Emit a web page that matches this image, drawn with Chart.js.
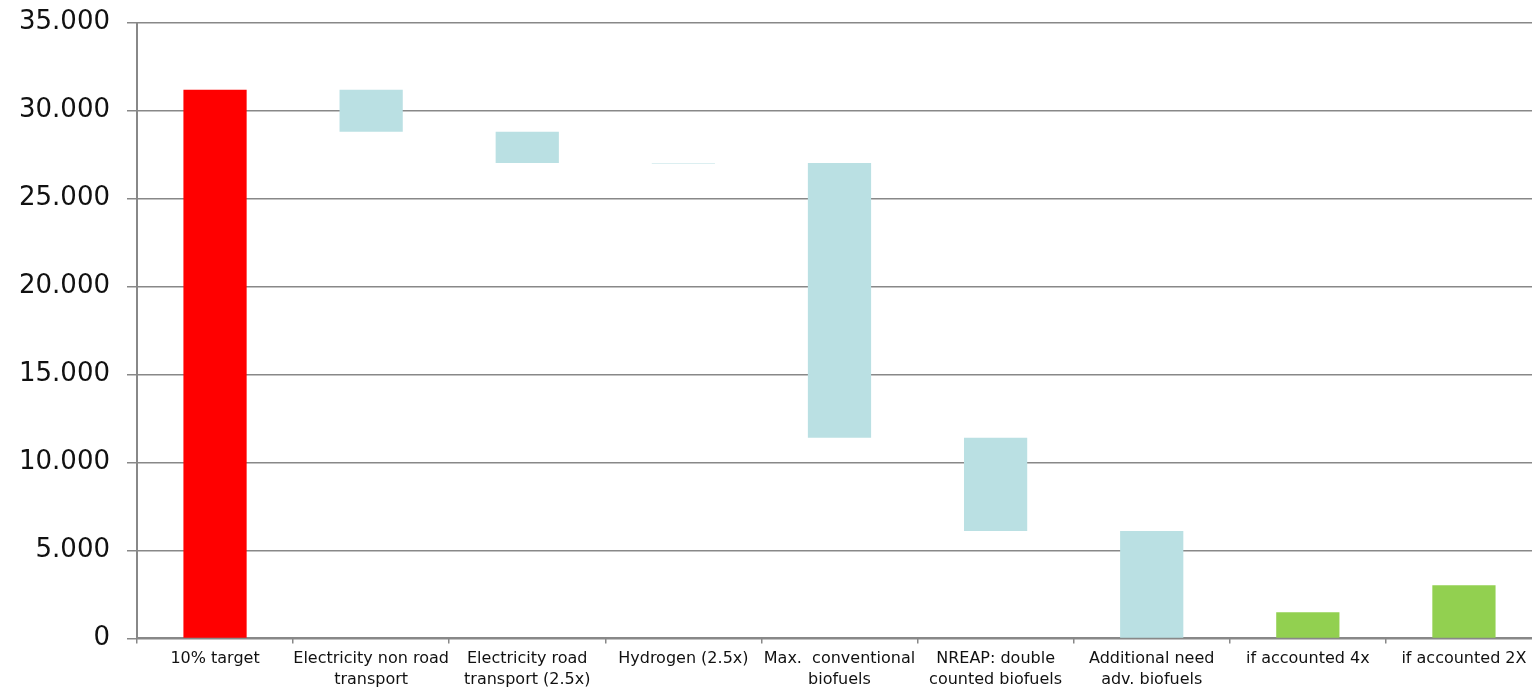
<!DOCTYPE html>
<html lang="en">
<head>
    <meta charset="UTF-8">
    <title>Waterfall</title>
    <script src="https://cdn.jsdelivr.net/npm/chart.js@4.4.0/dist/chart.umd.min.js"></script>
    <style>
        html, body { margin: 0; padding: 0; background: #fff; overflow: hidden; }
        #wrap { width: 1542px; height: 705px; margin-top: -10px; }
    </style>
</head>
<body>
    <div id="wrap">
        <canvas id="myChart" width="1542" height="705"></canvas>
    </div>

    <script>
        const categories = [
            '10% target',
            ['Electricity non road', 'transport'],
            ['Electricity road', 'transport (2.5x)'],
            'Hydrogen (2.5x)',
            ['Max.  conventional', 'biofuels'],
            ['NREAP: double', 'counted biofuels'],
            ['Additional need', 'adv. biofuels'],
            'if accounted 4x',
            'if accounted 2X'
        ];
        // floating bars: bottom and top of each step
        const barBottoms = [0, 28790, 27020, 26990, 11400, 6100, 0, 0, 0];
        const barTops = [31180, 31180, 28790, 27020, 27020, 11400, 6100, 1480, 3020];
        const barColors = ['#ff0000', '#bae0e3', '#bae0e3', '#bae0e3', '#bae0e3', '#bae0e3', '#bae0e3', '#92d050', '#92d050'];
        const yTicks = [0, 5000, 10000, 15000, 20000, 25000, 30000, 35000];

        const ctx = document.getElementById('myChart');
        const myChart = new Chart(ctx, {
            type: 'bar',
            data: {
                labels: categories,
                datasets: [{
                    data: barBottoms.map((b, i) => [b, barTops[i]]),
                    backgroundColor: barColors,
                    borderWidth: 0,
                    barPercentage: 0.405,
                    categoryPercentage: 1
                }]
            },
            options: {
                responsive: false,
                animation: false,
                layout: {
                    padding: { left: 2, top: 0, right: 0, bottom: 0 }
                },
                plugins: {
                    legend: { display: false },
                    tooltip: { enabled: false }
                },
                scales: {
                    x: {
                        grid: {
                            display: true,
                            drawOnChartArea: false,
                            drawTicks: true,
                            tickLength: 5,
                            color: '#888888',
                            lineWidth: 1.5
                        },
                        border: { display: true, color: '#888888', width: 2 },
                        ticks: {
                            color: '#111111',
                            maxRotation: 0,
                            autoSkip: false,
                            padding: 5,
                            font: { family: 'DejaVu Sans', size: 16, lineHeight: 1.3 }
                        }
                    },
                    y: {
                        min: 0,
                        max: 35000,
                        afterBuildTicks: axis => {
                            axis.ticks = yTicks.map(v => ({ value: v }));
                        },
                        grid: {
                            color: '#888888',
                            lineWidth: 1.5,
                            tickLength: 10
                        },
                        border: { display: true, color: '#888888', width: 2 },
                        ticks: {
                            color: '#111111',
                            padding: 17,
                            font: { family: 'DejaVu Sans', size: 26 },
                            callback: v => v.toLocaleString('de-DE')
                        }
                    }
                }
            }
        });
    </script>
</body>
</html>
